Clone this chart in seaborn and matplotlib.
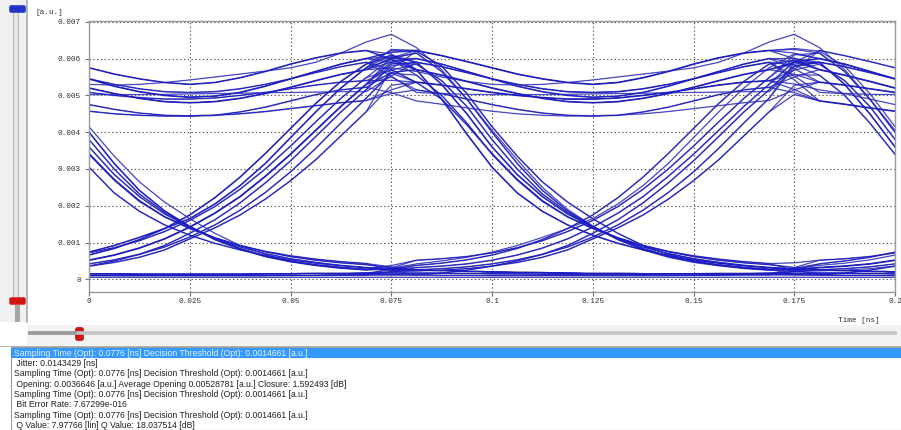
import numpy as np
import pandas as pd
import matplotlib
matplotlib.use("Agg")
import matplotlib.pyplot as plt
import seaborn as sns
from matplotlib.patches import Rectangle, FancyBboxPatch

# ---------------- data ----------------
STEP_NS = 0.00625  # sample spacing of the eye traces (16 samples per bit)

# segment templates, 17 samples from one bit centre to the next (units 1e-3 a.u.)
RISE_A = [0.30, 0.32, 0.36, 0.42, 0.52, 0.66, 0.85, 1.10, 1.42, 1.80, 2.25, 2.80, 3.40, 4.05, 4.70, 5.30, 5.80]
RISE_B = [0.35, 0.38, 0.44, 0.53, 0.66, 0.84, 1.08, 1.38, 1.75, 2.22, 2.78, 3.42, 4.10, 4.78, 5.38, 5.85, 6.15]
RISE_C = [0.25, 0.26, 0.29, 0.34, 0.42, 0.53, 0.68, 0.88, 1.15, 1.48, 1.88, 2.36, 2.92, 3.56, 4.25, 4.92, 5.50]
RISE_D = [0.50, 0.52, 0.56, 0.62, 0.72, 0.86, 1.05, 1.30, 1.60, 1.98, 2.45, 3.00, 3.62, 4.28, 4.92, 5.48, 5.95]
RISE_F = [0.10, 0.12, 0.17, 0.25, 0.36, 0.50, 0.68, 0.92, 1.25, 1.62, 2.08, 2.62, 3.22, 3.88, 4.55, 5.15, 5.65]
RISE_G = [0.38, 0.42, 0.50, 0.60, 0.74, 0.92, 1.14, 1.38, 1.65, 2.05, 2.55, 3.15, 3.85, 4.55, 5.20, 5.75, 6.20]
RISE_H = [0.22, 0.23, 0.25, 0.29, 0.36, 0.46, 0.60, 0.80, 1.10, 1.40, 1.75, 2.18, 2.68, 3.25, 3.90, 4.55, 5.15]

FALL_A = [6.05, 5.90, 5.30, 4.50, 3.60, 2.85, 2.25, 1.78, 1.42, 1.12, 0.88, 0.70, 0.56, 0.46, 0.38, 0.32, 0.28]
FALL_B = [6.25, 6.15, 5.65, 4.90, 4.00, 3.15, 2.42, 1.86, 1.44, 1.08, 0.82, 0.62, 0.48, 0.38, 0.31, 0.27, 0.24]
FALL_C = [5.70, 5.55, 5.00, 4.25, 3.40, 2.70, 2.12, 1.70, 1.40, 1.13, 0.92, 0.75, 0.62, 0.52, 0.45, 0.40, 0.36]
FALL_D = [5.95, 5.85, 5.40, 4.70, 3.80, 3.00, 2.32, 1.82, 1.43, 1.10, 0.84, 0.64, 0.50, 0.40, 0.33, 0.28, 0.25]
FALL_E = [6.66, 6.30, 5.70, 4.90, 4.05, 3.25, 2.50, 1.90, 1.45, 1.08, 0.80, 0.60, 0.46, 0.37, 0.30, 0.26, 0.23]
FALL_F = [5.45, 5.35, 4.90, 4.20, 3.42, 2.72, 2.14, 1.70, 1.38, 1.12, 0.92, 0.76, 0.64, 0.55, 0.48, 0.43, 0.40]
FALL_G = [6.00, 5.70, 4.90, 3.95, 3.05, 2.35, 1.85, 1.48, 1.20, 0.98, 0.80, 0.65, 0.53, 0.44, 0.37, 0.32, 0.28]
FALL_H = [6.30, 6.20, 5.80, 5.05, 4.15, 3.35, 2.65, 2.10, 1.65, 1.25, 0.92, 0.68, 0.50, 0.38, 0.30, 0.25, 0.22]

HIGH_A = [6.05, 6.00, 5.85, 5.65, 5.45, 5.25, 5.10, 5.00, 4.95, 4.98, 5.08, 5.25, 5.45, 5.65, 5.85, 6.00, 6.05]
HIGH_B = [5.75, 5.70, 5.55, 5.38, 5.20, 5.05, 4.92, 4.83, 4.80, 4.83, 4.92, 5.05, 5.22, 5.40, 5.57, 5.70, 5.75]
HIGH_C = [4.90, 4.85, 4.76, 4.66, 4.57, 4.50, 4.46, 4.44, 4.44, 4.46, 4.50, 4.56, 4.64, 4.72, 4.80, 4.86, 4.90]
HIGH_D = [6.30, 6.22, 6.08, 5.92, 5.75, 5.58, 5.45, 5.35, 5.30, 5.35, 5.48, 5.65, 5.85, 6.02, 6.15, 6.22, 6.25]
HIGH_E = [5.40, 5.36, 5.28, 5.18, 5.08, 5.00, 4.94, 4.90, 4.90, 4.93, 5.00, 5.08, 5.18, 5.28, 5.36, 5.40, 5.42]
HIGH_F = [5.20, 5.15, 5.05, 4.90, 4.75, 4.62, 4.52, 4.46, 4.44, 4.46, 4.55, 4.68, 4.85, 5.02, 5.15, 5.22, 5.25]
HIGH_G = [5.95, 5.90, 5.78, 5.62, 5.45, 5.30, 5.18, 5.10, 5.08, 5.10, 5.18, 5.30, 5.45, 5.62, 5.78, 5.90, 5.95]
HIGH_H = [5.10, 5.08, 5.05, 5.03, 5.02, 5.02, 5.02, 5.03, 5.04, 5.05, 5.06, 5.07, 5.08, 5.09, 5.10, 5.10, 5.10]
HIGH_X = [5.75, 5.65, 5.50, 5.38, 5.30, 5.28, 5.30, 5.35, 5.42, 5.50, 5.58, 5.66, 5.75, 5.90, 6.15, 6.45, 6.66]

LOW_A = [0.12, 0.12, 0.11, 0.11, 0.10, 0.10, 0.10, 0.10, 0.10, 0.10, 0.10, 0.10, 0.11, 0.11, 0.12, 0.12, 0.12]
LOW_B = [0.18, 0.17, 0.17, 0.16, 0.15, 0.15, 0.14, 0.14, 0.14, 0.14, 0.14, 0.15, 0.15, 0.16, 0.16, 0.17, 0.17]
LOW_C = [0.28, 0.26, 0.24, 0.22, 0.20, 0.19, 0.18, 0.17, 0.16, 0.16, 0.15, 0.15, 0.15, 0.14, 0.14, 0.14, 0.14]
LOW_D = [0.06, 0.06, 0.06, 0.06, 0.06, 0.06, 0.06, 0.06, 0.06, 0.06, 0.06, 0.06, 0.06, 0.06, 0.06, 0.06, 0.06]

SEGMENTS = {
    "RA": RISE_A, "RB": RISE_B, "RC": RISE_C, "RD": RISE_D, "RF": RISE_F, "RG": RISE_G, "RH": RISE_H,
    "FA": FALL_A, "FB": FALL_B, "FC": FALL_C, "FD": FALL_D, "FE": FALL_E, "FF": FALL_F,
    "FG": FALL_G, "FH": FALL_H,
    "HA": HIGH_A, "HB": HIGH_B, "HC": HIGH_C, "HD": HIGH_D, "HE": HIGH_E, "HF": HIGH_F,
    "HG": HIGH_G, "HH": HIGH_H, "HX": HIGH_X,
    "LA": LOW_A, "LB": LOW_B, "LC": LOW_C, "LD": LOW_D,
}

# each trace = three consecutive bit-to-bit segments seen in the 0..0.2 ns window
TRACES = [
    ("HA", "HD", "HB"), ("HB", "HA", "HE"), ("HD", "HB", "HA"), ("HE", "HE", "HC"),
    ("HC", "HF", "HB"), ("HF", "HC", "HE"), ("HA", "HB", "FA"), ("HB", "HD", "FB"),
    ("HA", "FA", "RA"), ("HE", "FD", "RB"), ("HB", "FB", "LC"), ("HD", "FC", "LC"),
    ("FA", "RA", "HA"), ("FB", "RB", "HB"), ("FC", "RC", "FA"), ("FD", "RD", "FB"),
    ("FA", "LC", "RA"), ("FB", "LC", "LB"), ("FD", "LC", "LA"), ("RA", "HA", "HB"),
    ("RB", "HD", "HA"), ("RC", "HB", "HE"), ("RA", "HE", "FC"), ("RD", "HA", "FD"),
    ("RB", "FA", "RC"), ("RA", "FB", "RA"), ("HX", "FE", "LC"), ("RC", "FC", "LC"),
    ("RA", "FD", "LC"), ("LA", "RA", "HA"), ("LB", "RB", "HB"), ("LB", "RC", "HD"),
    ("LA", "RD", "FA"), ("LA", "LA", "RA"), ("LB", "LB", "RC"), ("LA", "LA", "LA"),
    ("LB", "LB", "LB"), ("LD", "LD", "LD"), ("FC", "LC", "RD"), ("HB", "HX", "FE"),
    ("RF", "HG", "HH"), ("RB", "HG", "FC"), ("RD", "FF", "RF"),
    ("FF", "RF", "HG"), ("HG", "FF", "RD"), ("HG", "HH", "HD"), ("HH", "HG", "HC"),
    ("LB", "RF", "HG"), ("FF", "LC", "LB"), ("RF", "FA", "LC"), ("FB", "LC", "RF"),
    ("LA", "LB", "LA"), ("HC", "HE", "FD"), ("RA", "HF", "HC"),
    ("RG", "HD", "FH"), ("RH", "HE", "HF"), ("FG", "LC", "RG"), ("HA", "FH", "RH"),
    ("RG", "FG", "LC"), ("FH", "RG", "HA"), ("LB", "RH", "HE"), ("HF", "FG", "RA"),
    ("RH", "FH", "RG"), ("FG", "RH", "HC"), ("HD", "FG", "LB"), ("RG", "HB", "HG"),
]

X_TICKS = [0, 0.025, 0.05, 0.075, 0.1, 0.125, 0.15, 0.175, 0.2]
X_TICK_LABELS = ["0", "0.025", "0.05", "0.075", "0.1", "0.125", "0.15", "0.175", "0.2"]
Y_TICKS = [0, 0.001, 0.002, 0.003, 0.004, 0.005, 0.006, 0.007]
Y_TICK_LABELS = ["0", "0.001", "0.002", "0.003", "0.004", "0.005", "0.006", "0.007"]

INFO_LINES = [
    "Sampling Time (Opt): 0.0776 [ns] Decision Threshold (Opt): 0.0014661 [a.u.]",
    " Jitter: 0.0143429 [ns]",
    "Sampling Time (Opt): 0.0776 [ns] Decision Threshold (Opt): 0.0014661 [a.u.]",
    " Opening: 0.0036646 [a.u.] Average Opening 0.00528781 [a.u.] Closure: 1.592493 [dB]",
    "Sampling Time (Opt): 0.0776 [ns] Decision Threshold (Opt): 0.0014661 [a.u.]",
    " Bit Error Rate: 7.67299e-016",
    "Sampling Time (Opt): 0.0776 [ns] Decision Threshold (Opt): 0.0014661 [a.u.]",
    " Q Value: 7.97766 [lin] Q Value: 18.037514 [dB]",
]

# ---------------- assemble traces ----------------
rows = []
for k, (a, b, c) in enumerate(TRACES):
    A, B, C = SEGMENTS[a], SEGMENTS[b], SEGMENTS[c]
    vals = A[4:16] + [(A[16] + B[0]) / 2] + B[1:16] + [(B[16] + C[0]) / 2] + C[1:5]
    for i, v in enumerate(vals):
        rows.append({"t": i * STEP_NS, "v": v * 1e-3, "trace": k})
df = pd.DataFrame(rows)

# ---------------- figure ----------------
sns.set_theme(style="white")
plt.rcParams["font.family"] = ["Liberation Sans", "DejaVu Sans"]
W, H = 901, 430
fig = plt.figure(figsize=(W / 100, H / 100), dpi=100)
fig.patch.set_facecolor("white")

# background / widgets layer in pixel coordinates
bg = fig.add_axes([0, 0, 1, 1], zorder=0)
bg.set_xlim(0, W)
bg.set_ylim(H, 0)
bg.axis("off")

# left vertical slider
bg.add_patch(Rectangle((0, 0), 27, 322, fc="#f0f0f0", ec="none"))
bg.add_patch(Rectangle((13, 12), 5, 286, fc="#e6e6e6", ec="#b8b8b8", lw=0.8))
bg.plot([26.5, 26.5], [0, 322], color="#a8a8a8", lw=1.2)
bg.add_patch(FancyBboxPatch((10, 6), 15, 6, boxstyle="round,pad=0.5,rounding_size=2",
                            fc="#1f35c4", ec="#3a4fd8", lw=0.6))
bg.add_patch(FancyBboxPatch((10, 298), 15, 6, boxstyle="round,pad=0.5,rounding_size=2",
                            fc="#d41515", ec="#e04040", lw=0.6))
bg.add_patch(Rectangle((14.5, 305), 5, 17, fc="#a6a6a6", ec="none"))

# horizontal slider
bg.add_patch(Rectangle((27, 325), W - 27, 20, fc="#f2f2f2", ec="none"))
bg.plot([28, 897], [333, 333], color="#c4c4c4", lw=2.6, solid_capstyle="butt")
bg.plot([28, 77], [333, 333], color="#9a9a9a", lw=2.6, solid_capstyle="butt")
bg.add_patch(FancyBboxPatch((76, 328), 7, 12, boxstyle="round,pad=0.4,rounding_size=2",
                            fc="#d41515", ec="#b00000", lw=0.5))
bg.plot([0, W], [345.5, 345.5], color="#b0b0b0", lw=0.8)

# info list panel
bg.add_patch(Rectangle((10.5, 347), W - 10, 83, fc="white", ec="#9c9c9c", lw=0.8))
bg.add_patch(Rectangle((11, 348), W - 11, 10, fc="#3399ff", ec="none"))
line_y = [353.2, 363.6, 374.0, 384.4, 394.6, 404.8, 415.0, 425.0]
for i, (txt, yy) in enumerate(zip(INFO_LINES, line_y)):
    bg.text(14, yy, txt, fontsize=6.2, va="center", ha="left",
            color="#e8f2ff" if i == 0 else "#202020")

# eye diagram axes
x0, x1 = 89, 895
y_top, y_bot = 20.7, 291.5
ax = fig.add_axes([x0 / W, 1 - y_bot / H, (x1 - x0) / W, (y_bot - y_top) / H], zorder=2)
ax.set_facecolor("white")
sns.lineplot(data=df, x="t", y="v", units="trace", estimator=None, sort=False,
             color="#9494bc", lw=1.2, alpha=0.7, ax=ax, legend=False)
sns.lineplot(data=df, x="t", y="v", units="trace", estimator=None, sort=False,
             color="#1c1cc8", lw=0.5, ax=ax, legend=False)

ax.set_xlim(0, 0.2)
ax.set_ylim(-0.00033, 0.00703)
ax.set_xticks(X_TICKS)
ax.set_xticklabels(X_TICK_LABELS)
ax.set_yticks(Y_TICKS)
ax.set_yticklabels(Y_TICK_LABELS)
ax.set_xlabel("")
ax.set_ylabel("")
ax.grid(True, linestyle=(0, (1.2, 2.2)), color="#505050", lw=0.8)
ax.set_axisbelow(True)
for s in ax.spines.values():
    s.set_color("#9a9a9a")
    s.set_linewidth(1.0)
ax.tick_params(axis="both", which="both", direction="out", length=3, width=0.8,
               color="#707070", labelsize=5.6, labelcolor="#303030")
ax.tick_params(axis="y", pad=3)
ax.tick_params(axis="x", pad=1.5)
ax.tick_params(left=True, bottom=True)
for lab in ax.get_xticklabels() + ax.get_yticklabels():
    lab.set_family(["Liberation Mono", "DejaVu Sans Mono"])

bg.text(49, 12, "[a.u.]", fontsize=5.6, family=["Liberation Mono", "DejaVu Sans Mono"],
        ha="center", va="center", color="#303030")
bg.text(880, 321, "Time [ns]", fontsize=5.6, family=["Liberation Mono", "DejaVu Sans Mono"],
        ha="right", va="center", color="#303030")

fig.savefig("out.png", dpi=100, facecolor="white")
